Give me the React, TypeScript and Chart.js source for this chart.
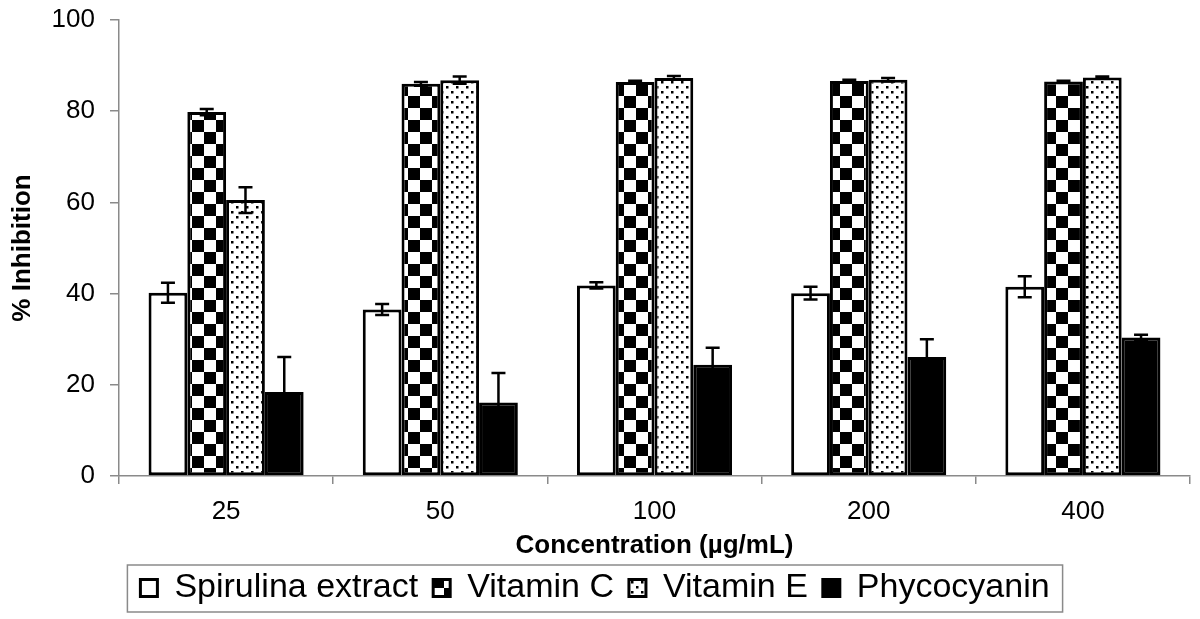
import React, { useEffect, useRef } from "react";
import { Chart, registerables } from "chart.js";

Chart.register(...registerables);

const categories = ["25", "50", "100", "200", "400"];
const seriesNames = ["Spirulina extract", "Vitamin C", "Vitamin E", "Phycocyanin"];
const spirulina = [40.2, 36.5, 41.8, 40.1, 41.5];
const spirulinaErr = [2.2, 1.2, 0.7, 1.4, 2.3];
const vitaminC = [79.8, 86.0, 86.4, 86.6, 86.5];
const vitaminCErr = [0.7, 0.4, 0.3, 0.3, 0.2];
const vitaminE = [60.5, 86.8, 87.3, 86.9, 87.4];
const vitaminEErr = [2.8, 0.8, 0.4, 0.4, 0.2];
const phycocyanin = [18.4, 16.1, 24.4, 26.1, 30.4];
const phycocyaninErr = [7.7, 6.5, 3.7, 3.9, 0.6];
const yTicks = [0, 20, 40, 60, 80, 100];

function makeChecker(ctx: CanvasRenderingContext2D) {
  const c = document.createElement("canvas");
  const s = 12;
  c.width = s * 2;
  c.height = s * 2;
  const g = c.getContext("2d")!;
  g.fillStyle = "#fff";
  g.fillRect(0, 0, s * 2, s * 2);
  g.fillStyle = "#000";
  g.fillRect(0, 0, s, s);
  g.fillRect(s, s, s, s);
  return ctx.createPattern(c, "repeat")!;
}

function makeDots(ctx: CanvasRenderingContext2D) {
  const c = document.createElement("canvas");
  c.width = 10;
  c.height = 10;
  const g = c.getContext("2d")!;
  g.fillStyle = "#fff";
  g.fillRect(0, 0, 10, 10);
  g.fillStyle = "#000";
  g.fillRect(1, 1, 2.5, 2.5);
  g.fillRect(6, 6, 2.5, 2.5);
  return ctx.createPattern(c, "repeat")!;
}

const errorBarPlugin = {
  id: "errorBars",
  afterDatasetsDraw(chart: any) {
    const ctx = chart.ctx;
    const y = chart.scales.y;
    const errs = [spirulinaErr, vitaminCErr, vitaminEErr, phycocyaninErr];
    ctx.save();
    ctx.strokeStyle = "#000";
    ctx.lineWidth = 2.5;
    chart.data.datasets.forEach((ds: any, di: number) => {
      const meta = chart.getDatasetMeta(di);
      meta.data.forEach((bar: any, i: number) => {
        const v = ds.data[i];
        const e = errs[di][i];
        const yt = y.getPixelForValue(v + e);
        const yb = y.getPixelForValue(v - e);
        const x = bar.x;
        const cw = 7;
        ctx.beginPath();
        ctx.moveTo(x, yt);
        ctx.lineTo(x, yb);
        ctx.moveTo(x - cw, yt);
        ctx.lineTo(x + cw, yt);
        ctx.moveTo(x - cw, yb);
        ctx.lineTo(x + cw, yb);
        ctx.stroke();
      });
    });
    ctx.restore();
  },
};

const legendBorderPlugin = {
  id: "legendBorder",
  afterDraw(chart: any) {
    const lg = chart.legend;
    if (!lg || !lg.legendHitBoxes || !lg.legendHitBoxes.length) return;
    const hb = lg.legendHitBoxes;
    const left = hb[0].left - 13;
    const last = hb[hb.length - 1];
    const right = last.left + last.width + 13;
    const cy = hb[0].top + hb[0].height / 2;
    const ctx = chart.ctx;
    ctx.save();
    ctx.strokeStyle = "#8a8a8a";
    ctx.lineWidth = 1.5;
    ctx.strokeRect(left, cy - 23, right - left, 47);
    ctx.restore();
  },
};

export default function App() {
  const ref = useRef<HTMLCanvasElement>(null);
  useEffect(() => {
    const canvas = ref.current!;
    const ctx = canvas.getContext("2d")!;
    const checker = makeChecker(ctx);
    const dots = makeDots(ctx);
    const common = {
      borderColor: "#000",
      borderWidth: 3,
      borderSkipped: false,
      categoryPercentage: 0.724,
      barPercentage: 1.0,
    };
    const chart = new Chart(canvas, {
      type: "bar",
      data: {
        labels: categories,
        datasets: [
          { label: seriesNames[0], data: spirulina, backgroundColor: "#fff", ...common },
          { label: seriesNames[1], data: vitaminC, backgroundColor: checker, ...common },
          { label: seriesNames[2], data: vitaminE, backgroundColor: dots, ...common },
          { label: seriesNames[3], data: phycocyanin, backgroundColor: "#000", ...common },
        ] as any,
      },
      options: {
        animation: false,
        responsive: false,
        layout: { padding: { top: 20, right: 10, bottom: 4, left: 0 } },
        plugins: {
          tooltip: { enabled: false },
          legend: {
            position: "bottom",
            labels: {
              color: "#000",
              font: { family: "'Liberation Sans', Arial, sans-serif", size: 34 },
              boxWidth: 17,
              boxHeight: 17,
              padding: 15,
            },
          },
        },
        scales: {
          x: {
            offset: true,
            grid: { offset: true, drawOnChartArea: false, drawTicks: true, tickLength: 8, color: "#8a8a8a", lineWidth: 1.5 },
            border: { display: true, color: "#8a8a8a", width: 1.5 },
            ticks: {
              color: "#000",
              font: { family: "'Liberation Sans', Arial, sans-serif", size: 26 },
              padding: 12,
            },
            title: {
              display: true,
              text: "Concentration (µg/mL)",
              color: "#000",
              font: { family: "'Liberation Sans', Arial, sans-serif", size: 26, weight: "bold", lineHeight: 1 },
              padding: { top: 0, bottom: -3 },
            },
            afterFit(scale: any) {
              scale.height = 80;
            },
          },
          y: {
            min: 0,
            max: 100,
            afterBuildTicks(scale: any) {
              scale.ticks = yTicks.map((v) => ({ value: v }));
            },
            grid: { drawOnChartArea: false, drawTicks: true, tickLength: 9, color: "#8a8a8a", lineWidth: 1.5 },
            border: { display: true, color: "#8a8a8a", width: 1.5 },
            ticks: {
              color: "#000",
              font: { family: "'Liberation Sans', Arial, sans-serif", size: 26 },
              padding: 15,
            },
            title: {
              display: true,
              text: "% Inhibition",
              color: "#000",
              font: { family: "'Liberation Sans', Arial, sans-serif", size: 26, weight: "bold", lineHeight: 1.2 },
              padding: { top: 7, bottom: 0 },
            },
            afterFit(scale: any) {
              scale.width = 119;
              scale.paddingTop = 10;
              scale.paddingBottom = 10;
            },
          },
        },
      } as any,
      plugins: [errorBarPlugin, legendBorderPlugin],
    });
    return () => chart.destroy();
  }, []);
  return (
    <div style={{ position: "absolute", left: 0, top: 0, width: 1200, height: 619, background: "#fff" }}>
      <canvas ref={ref} width={1200} height={619} style={{ width: 1200, height: 619, display: "block" }} />
    </div>
  );
}
